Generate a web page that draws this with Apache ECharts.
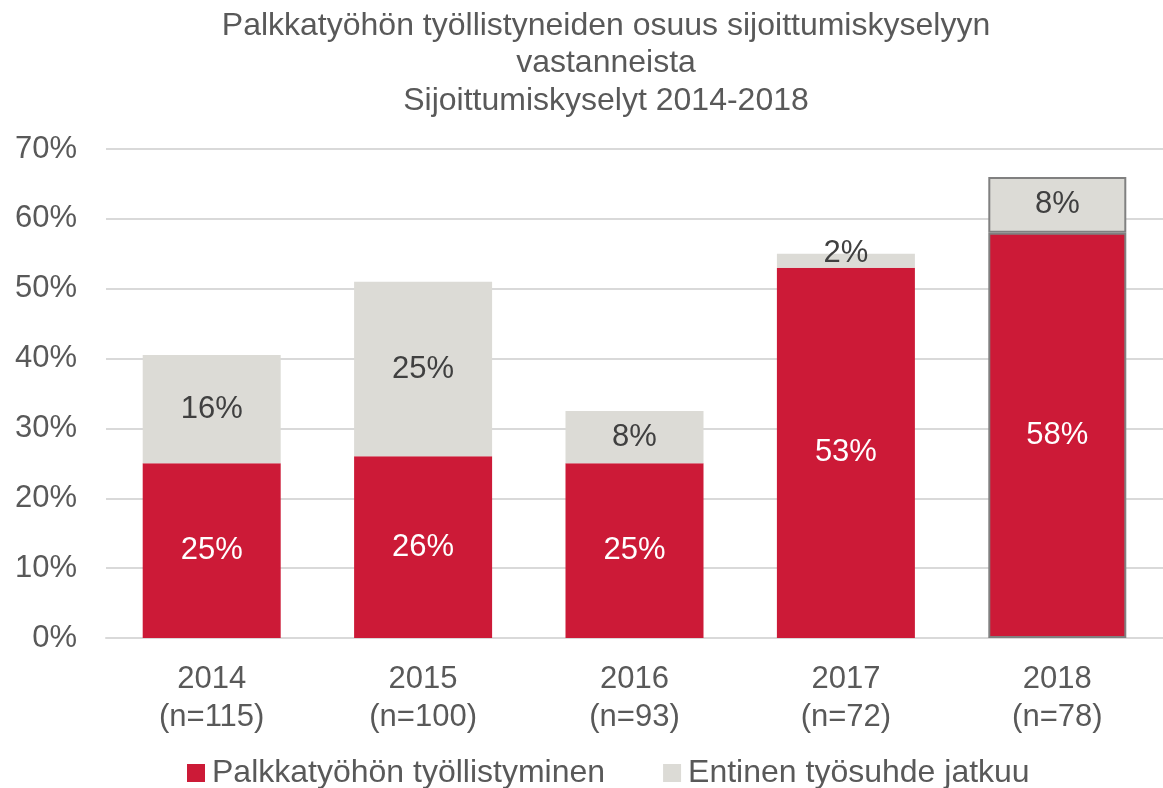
<!DOCTYPE html>
<html>
<head>
<meta charset="utf-8">
<script src="https://cdn.jsdelivr.net/npm/echarts@6/dist/echarts.min.js"></script>
<style>
html,body{margin:0;padding:0;background:#fff;}
#chart{width:1163px;height:788px;}
</style>
</head>
<body>
<div id="chart"></div>
<script>
// kategoriat ja arvot (%)
var years = ['2014\n(n=115)', '2015\n(n=100)', '2016\n(n=93)', '2017\n(n=72)', '2018\n(n=78)']
var palkkatyo = [25, 26, 25, 53, 58]
var entinen = [15.5, 25, 7.5, 2, 8]
var yTicks = [0, 10, 20, 30, 40, 50, 60, 70]

var font = 'Liberation Sans, Arial, sans-serif'

var chart = echarts.init(document.getElementById('chart'))

function styled(arr){
    return arr.map(function(v, i){
        var item = {value: v}
        // 2018 bar has an outline in the original
        if(i === 4){
            item.itemStyle = {borderColor: '#808080', borderWidth: 2}
        }
        // thin segment: label sits a bit higher
        if(v < 4){
            item.label = {offset: [0, -7]}
        }
        return item
    })
}

var options = {
    animation: false,
    title: {
        text: 'Palkkatyöhön työllistyneiden osuus sijoittumiskyselyyn\nvastanneista\nSijoittumiskyselyt 2014-2018',
        left: 601,
        textAlign: 'center',
        top: 2,
        textStyle: {
            fontFamily: font,
            fontSize: 32,
            fontWeight: 'normal',
            color: '#595959',
            lineHeight: 37.5
        }
    },
    legend: {
        bottom: -6,
        left: 182,
        itemWidth: 18,
        itemHeight: 18,
        itemGap: 58,
        icon: 'rect',
        textStyle: {fontFamily: font, fontSize: 32, color: '#595959', padding: [0, 0, 0, 2]},
        data: ['Palkkatyöhön työllistyminen', 'Entinen työsuhde jatkuu']
    },
    grid: {
        left: 106,
        top: 149,
        width: 1070,
        height: 489
    },
    xAxis: {
        type: 'category',
        data: years,
        axisTick: {show: false},
        axisLine: {lineStyle: {color: '#d9d9d9', width: 2}},
        axisLabel: {
            fontFamily: font,
            fontSize: 31,
            color: '#595959',
            lineHeight: 38,
            margin: 22
        }
    },
    yAxis: {
        type: 'value',
        min: 0,
        max: 70,
        interval: 10,
        axisLine: {show: false},
        axisTick: {show: false},
        splitLine: {lineStyle: {color: '#d9d9d9', width: 2}},
        axisLabel: {
            fontFamily: font,
            fontSize: 31,
            color: '#595959',
            margin: 29,
            formatter: function(v){
                return yTicks.indexOf(v) >= 0 ? v + '%' : ''
            }
        }
    },
    series: [
        {
            name: 'Palkkatyöhön työllistyminen',
            type: 'bar',
            stack: 'a',
            barWidth: 138,
            itemStyle: {color: '#cc1a37'},
            data: styled(palkkatyo),
            label: {
                show: true,
                position: 'inside',
                fontFamily: font,
                fontSize: 31,
                color: '#ffffff',
                formatter: function(p){ return Math.round(p.value) + '%' }
            }
        },
        {
            name: 'Entinen työsuhde jatkuu',
            type: 'bar',
            stack: 'a',
            barWidth: 138,
            itemStyle: {color: '#dcdbd6'},
            data: styled(entinen),
            label: {
                show: true,
                position: 'inside',
                fontFamily: font,
                fontSize: 31,
                color: '#404040',
                formatter: function(p){ return Math.round(p.value) + '%' }
            }
        }
    ]
}

chart.setOption(options)
</script>
</body>
</html>
